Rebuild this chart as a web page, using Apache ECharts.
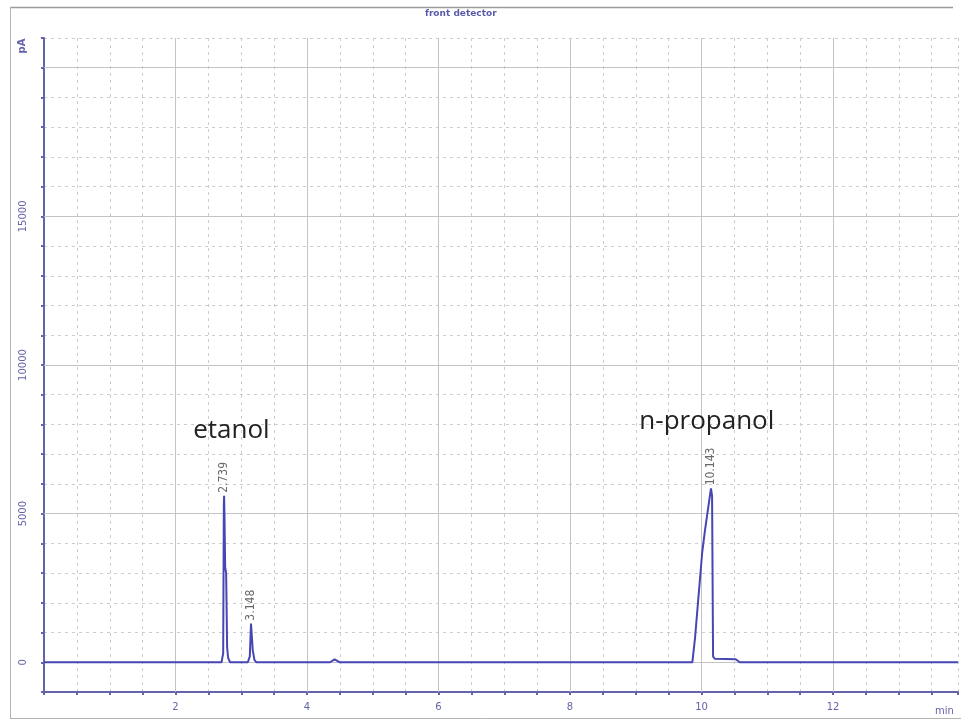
<!DOCTYPE html>
<html>
<head>
<meta charset="utf-8">
<title>front detector</title>
<script src="https://cdn.jsdelivr.net/npm/echarts@6/dist/echarts.min.js"></script>
<style>
  html, body { margin: 0; padding: 0; background: #fff; }
  #chart { width: 961px; height: 720px; }
</style>
</head>
<body>
<div id="chart"></div>
<script>
// Retention time (min) and detector signal (pA) of the FID trace
const times = [
  0, 2.70, 2.725, 2.735, 2.739, 2.745, 2.755, 2.77, 2.785, 2.80, 2.83,
  3.10, 3.13, 3.148, 3.16, 3.175, 3.20, 3.23,
  4.35, 4.42, 4.50,
  9.86, 9.90, 10.01, 10.05, 10.143, 10.16, 10.175, 10.20, 10.52, 10.58, 13.9
];
const signal = [
  0, 0, 300, 5300, 5600, 4900, 3200, 3000, 500, 150, 0,
  0, 200, 1300, 900, 400, 80, 0,
  0, 100, 0,
  0, 800, 3700, 4400, 5850, 5600, 200, 120, 100, 0, 0
];

// Integrated peaks: retention times printed above each apex
const peakTimes = [2.739, 3.148, 10.143];
const peakTexts = ['2.739', '3.148', '10.143'];

// Compound names written above their peaks
const compoundNames = ['etanol', 'n-propanol'];
const compoundTimes = [2.85, 10.08];
const compoundLevels = [7800, 8100];

// Axis ticks
const xMajorTicks = [2, 4, 6, 8, 10, 12];
const yGridMajor = [0, 5000, 10000, 15000, 20000];
const yTickLabels = [0, 5000, 10000, 15000];

const axisBlue = '#6464a8';
const traceBlue = '#4646b4';

const peakData = peakTimes.map((t, k) => [t, signal[times.indexOf(t)], peakTexts[k]]);

const chart = echarts.init(document.getElementById('chart'), null, { renderer: 'canvas' });

const option = {
  backgroundColor: '#fff',
  animation: false,
  grid: { left: 44, right: 0, top: 38, bottom: 28, containLabel: false },
  xAxis: {
    type: 'value',
    min: 0,
    max: 13.9,
    interval: 0.5,
    axisLine: { show: true, onZero: false, lineStyle: { color: axisBlue, width: 2 } },
    axisTick: { show: true, length: 3, lineStyle: { color: axisBlue, width: 2 } },
    axisLabel: {
      margin: 10,
      color: axisBlue,
      fontFamily: 'DejaVu Sans',
      fontSize: 10,
      formatter: v => (xMajorTicks.indexOf(v) >= 0 ? String(v) : '')
    },
    splitLine: { show: true, lineStyle: { color: '#cccccc', type: [3, 4], width: 1 } }
  },
  yAxis: {
    type: 'value',
    min: -1000,
    max: 21000,
    interval: 1000,
    axisLine: { show: true, onZero: false, lineStyle: { color: axisBlue, width: 2 } },
    axisTick: { show: true, length: 3, lineStyle: { color: axisBlue, width: 2 } },
    axisLabel: {
      margin: 16,
      rotate: 90,
      color: axisBlue,
      fontFamily: 'DejaVu Sans',
      fontSize: 10,
      formatter: v => (yTickLabels.indexOf(v) >= 0 ? String(v) : '')
    },
    splitLine: { show: true, lineStyle: { color: '#cccccc', type: [3, 4], width: 1 } }
  },
  series: [
    {
      type: 'line',
      data: times.map((t, i) => [t, signal[i]]),
      showSymbol: false,
      symbol: 'none',
      lineStyle: { color: traceBlue, width: 2 },
      z: 5,
      markLine: {
        silent: true,
        symbol: ['none', 'none'],
        label: { show: false },
        lineStyle: { color: '#c4c4c4', type: 'solid', width: 1 },
        z: 1,
        data: xMajorTicks.map(v => ({ xAxis: v })).concat(yGridMajor.map(v => ({ yAxis: v })))
      },
      markPoint: {
        silent: true,
        symbol: 'circle',
        symbolSize: 0,
        data: compoundNames.map((name, i) => ({
          coord: [compoundTimes[i], compoundLevels[i]],
          label: {
            show: true,
            formatter: name,
            position: 'inside',
            fontFamily: 'Open Sans',
            fontSize: 26,
            color: '#222'
          }
        }))
      }
    },
    {
      // apex retention-time labels
      type: 'scatter',
      data: peakData,
      symbolSize: 0,
      silent: true,
      z: 6,
      label: {
        show: true,
        formatter: p => p.value[2],
        position: 'top',
        distance: 3,
        rotate: 90,
        align: 'left',
        verticalAlign: 'middle',
        fontFamily: 'DejaVu Sans Condensed',
        fontSize: 12,
        color: '#444'
      }
    }
  ],
  graphic: [
    // window frame
    { type: 'line', shape: { x1: 10, y1: 7.5, x2: 953, y2: 7.5 }, style: { stroke: '#9a9a9a', lineWidth: 1.5 }, silent: true },
    { type: 'line', shape: { x1: 10.5, y1: 7, x2: 10.5, y2: 718 }, style: { stroke: '#b4b4b4', lineWidth: 1 }, silent: true },
    { type: 'line', shape: { x1: 10, y1: 718.5, x2: 961, y2: 718.5 }, style: { stroke: '#b4b4b4', lineWidth: 1 }, silent: true },
    {
      type: 'text', left: 425, top: 9,
      style: { text: 'front detector', fill: '#5a5aa8', font: 'bold 9px "DejaVu Sans"' },
      silent: true
    },
    {
      type: 'text', x: 22, y: 46, rotation: Math.PI / 2,
      style: { text: 'pA', fill: axisBlue, font: 'bold 10px "DejaVu Sans"', textAlign: 'center', textVerticalAlign: 'middle' },
      silent: true
    },
    {
      type: 'text', x: 935, y: 706,
      style: { text: 'min', fill: axisBlue, font: '10px "DejaVu Sans"' },
      silent: true
    }
  ]
};

chart.setOption(option);
</script>
</body>
</html>
